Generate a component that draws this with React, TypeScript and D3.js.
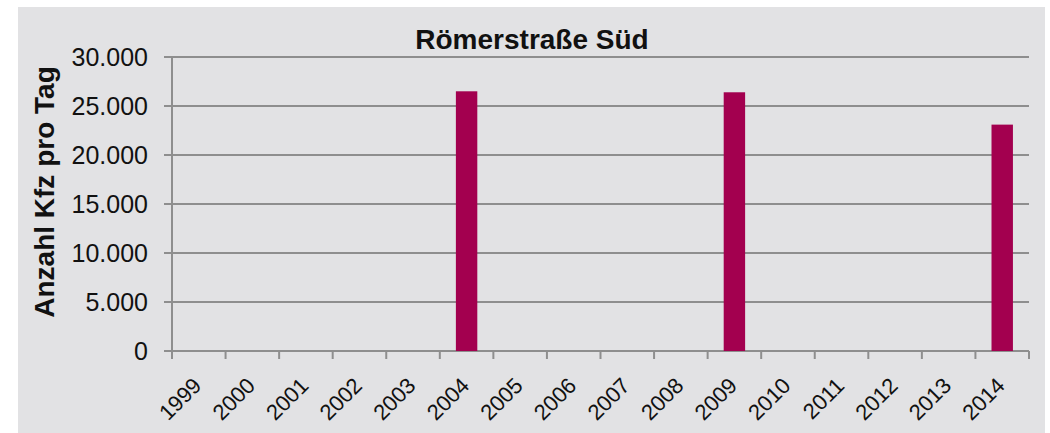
import React from "react";
import * as d3 from "d3";

const years = ["1999","2000","2001","2002","2003","2004","2005","2006","2007","2008","2009","2010","2011","2012","2013","2014"];
const values: (number | null)[] = [null,null,null,null,null,26500,null,null,null,null,26400,null,null,null,null,23100];
const yTicks = [0, 5000, 10000, 15000, 20000, 25000, 30000];
const title = "Römerstraße Süd";
const yTitle = "Anzahl Kfz pro Tag";

const W = 1050, H = 433;
const left = 172, right = 1029, top = 57, bottom = 351;

export default function App() {
  const x = d3.scaleBand<string>().domain(years).range([left, right]).padding(0);
  const y = d3.scaleLinear().domain([0, 30000]).range([bottom, top]);
  const bw = x.bandwidth();
  const barW = bw * 0.4;
  const fmt = (v: number) => d3.format(",")(v).replace(/,/g, ".");
  const grid = "#8e8e8e";
  const font = "'Liberation Sans', Arial, sans-serif";
  return (
    <svg width={W} height={H} style={{ position: "absolute", left: 0, top: 0 }} fontFamily={font}>
      <rect x={18} y={7} width={1027} height={H - 7} fill="#e2e2e4" />
      {yTicks.map((t) => (
        <g key={t}>
          <line x1={164} x2={right} y1={y(t)} y2={y(t)} stroke={grid} strokeWidth={2} />
          <text x={148} y={y(t)} dy="0.36em" textAnchor="end" fontSize={25} fill="#111">{fmt(t)}</text>
        </g>
      ))}
      <line x1={left} x2={left} y1={top} y2={bottom + 8} stroke={grid} strokeWidth={2} />
      {years.map((yr) => (
        <line key={"t" + yr} x1={(x(yr) as number) + bw} x2={(x(yr) as number) + bw} y1={bottom} y2={bottom + 8} stroke={grid} strokeWidth={2} />
      ))}
      {years.map((yr, i) => {
        const v = values[i];
        if (v == null) return null;
        const cx = (x(yr) as number) + bw / 2;
        return <rect key={"b" + yr} x={cx - barW / 2} y={y(v)} width={barW} height={bottom - y(v)} fill="#a3004f" />;
      })}
      {years.map((yr) => {
        const cx = (x(yr) as number) + bw / 2;
        return (
          <text key={"l" + yr} transform={`translate(${cx + 4},${387}) rotate(-45)`} textAnchor="end" fontSize={22} fill="#111">{yr}</text>
        );
      })}
      <text x={532} y={49} textAnchor="middle" fontSize={28} fontWeight="bold" fill="#111">{title}</text>
      <text transform={`translate(54,192) rotate(-90)`} textAnchor="middle" fontSize={28} fontWeight="bold" fill="#111">{yTitle}</text>
    </svg>
  );
}
